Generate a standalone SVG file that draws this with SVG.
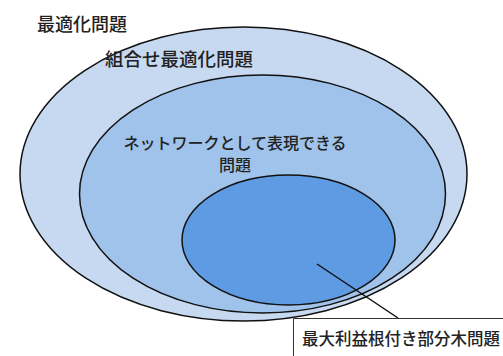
<svg xmlns="http://www.w3.org/2000/svg" width="503" height="356" viewBox="0 0 503 356">
<style>
.e{stroke:#111;stroke-width:1.5}
.t{font-family:"Noto Sans CJK JP","Noto Sans CJK SC",sans-serif;fill:#222;font-weight:500}
</style>
<rect width="503" height="356" fill="#ffffff"/>
<g id="optimization">
<ellipse class="e" cx="243.5" cy="174" rx="223.5" ry="147" fill="#c6d9f1"/>
<text class="t" x="37" y="31" font-size="18">最適化問題</text>
</g>
<g id="combinatorial">
<ellipse class="e" cx="262.5" cy="194" rx="183" ry="119" fill="#a0c3eb"/>
<text class="t" x="105" y="66" font-size="18.5">組合せ最適化問題</text>
</g>
<g id="network">
<text class="t" x="235" y="149" font-size="16" text-anchor="middle">ネットワークとして表現できる<tspan x="235" dy="22">問題</tspan></text>
</g>
<g id="subtree">
<ellipse class="e" cx="288.5" cy="240" rx="106.5" ry="65" fill="#5f9be3"/>
</g>
<g id="connectors">
<line x1="317" y1="264" x2="398" y2="318" stroke="#111" stroke-width="1.5"/>
</g>
<g id="label">
<path d="M293.5 356 V318.5 H503" fill="none" stroke="#333" stroke-width="1"/>
<text class="t" x="302" y="345" font-size="16.5">最大利益根付き部分木問題</text>
</g>
</svg>
